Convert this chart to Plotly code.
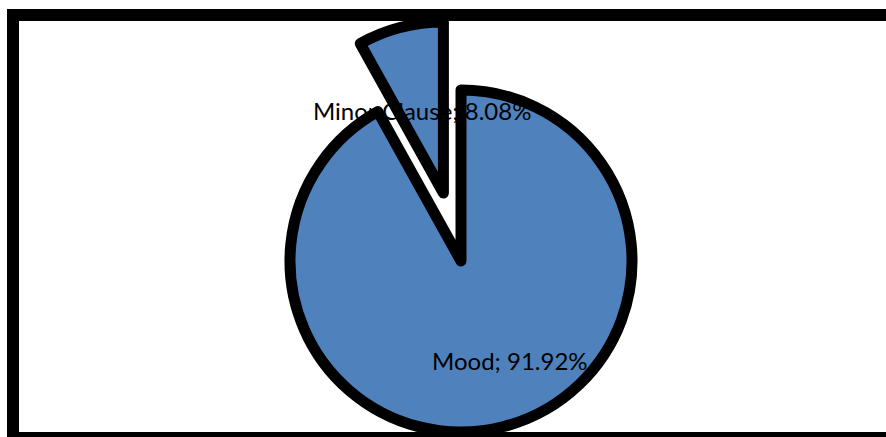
import plotly.graph_objects as go

labels = ["Mood", "Minor Clause"]
values = [91.92, 8.08]
fill_color = "#4F81BD"
outline = "#000000"

W, H = 886, 437

def dom(cx, cy, r):
    return dict(x=[(cx - r) / W, (cx + r) / W], y=[1 - (cy + r) / H, 1 - (cy - r) / H])

r = 171
# main pie (Mood slice visible)
main_center = (461, 261)
# pulled slice (Minor Clause) offset along its bisector
pull_center = (443.4, 193)

fig = go.Figure()
fig.add_trace(go.Pie(
    labels=labels, values=values, sort=False, direction="clockwise", rotation=0,
    marker=dict(colors=[fill_color, "rgba(0,0,0,0)"],
                line=dict(color=outline, width=[11, 0])),
    textinfo="none", hoverinfo="label+percent", showlegend=False,
    domain=dom(*main_center, r),
))
fig.add_trace(go.Pie(
    labels=labels, values=values, sort=False, direction="clockwise", rotation=0,
    marker=dict(colors=["rgba(0,0,0,0)", fill_color],
                line=dict(color=outline, width=[0, 11])),
    textinfo="none", hoverinfo="label+percent", showlegend=False,
    domain=dom(*pull_center, r),
))

total = sum(values)
label_pos = [(509.5, 360), (422, 111)]
for lab, v, (x, y) in zip(labels, values, label_pos):
    fig.add_annotation(
        x=x / W, y=1 - y / H, xref="paper", yref="paper",
        text=f"{lab}; {v / total * 100:.2f}%", showarrow=False,
        font=dict(family="Lato", size=24, color="#000000"),
        xanchor="center", yanchor="middle",
    )

# chart frame
fig.add_shape(type="rect", xref="paper", yref="paper",
              x0=13 / W, x1=(W + 20) / W, y0=1 - 438 / H, y1=1 - 15 / H,
              line=dict(color="#000000", width=12), fillcolor="rgba(0,0,0,0)", layer="above")

fig.update_layout(
    width=W, height=H, margin=dict(l=0, r=0, t=0, b=0),
    paper_bgcolor="#FFFFFF", plot_bgcolor="#FFFFFF",
)
fig.write_html("out.html", config={"displayModeBar": False},
               post_script="document.body.style.margin='0';document.body.style.overflow='hidden';")
